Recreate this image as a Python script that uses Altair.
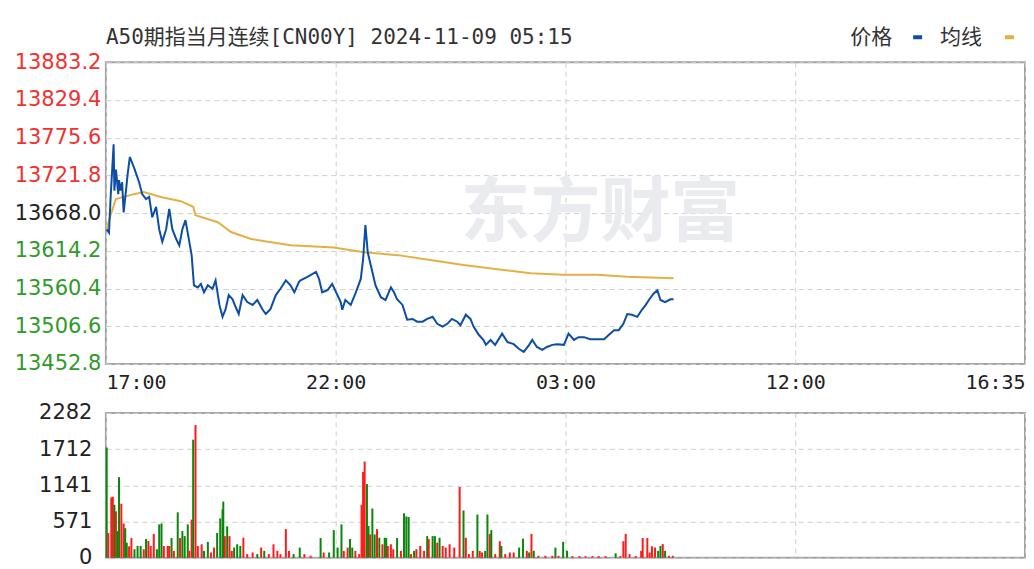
import altair as alt
import pandas as pd

TITLE = "A50期指当月连续[CN00Y] 2024-11-09 05:15"
x_labels = ["17:00", "22:00", "03:00", "12:00", "16:35"]
x_total = 1190          # trading minutes shown on the axis (17:00-05:15, 09:00-16:35)
x_ticks = [0, 297.5, 595, 892.5, 1190]
price_ticks = [13452.8, 13506.6, 13560.4, 13614.2, 13668.0, 13721.8, 13775.6, 13829.4, 13883.2]
prev_close = 13668.0
vol_ticks = [0, 571, 1141, 1712, 2282]

# price (minutes after 17:00)
price_minute = [1, 4, 6, 10, 11, 13, 16, 17, 19, 21,
                23, 26, 28, 31, 37, 43, 47, 52, 56, 60,
                65, 69, 73, 78, 82, 86, 91, 95, 99, 103,
                108, 111, 114, 119, 123, 127, 132, 138, 142, 147,
                151, 155, 159, 164, 168, 172, 177, 183, 190, 196,
                203, 207, 213, 220, 226, 233, 239, 244, 250, 252,
                261, 272, 276, 280, 287, 293, 298, 304, 306, 310,
                317, 323, 330, 333, 336, 339, 345, 349, 356, 362,
                369, 373, 377, 384, 390, 397, 403, 410, 416, 423,
                429, 436, 442, 448, 455, 459, 466, 472, 476, 483,
                489, 492, 498, 504, 513, 520, 528, 535, 541, 548,
                552, 558, 565, 571, 578, 584, 593, 599, 606, 612,
                619, 627, 636, 645, 651, 658, 664, 670, 675, 681,
                688, 694, 699, 703, 709, 714, 718, 724, 731, 735]
price_value = [13645, 13640, 13688, 13766, 13700, 13730, 13695, 13715, 13700, 13712,
               13669, 13700, 13722, 13748, 13731, 13712, 13695, 13688, 13691, 13662,
               13677, 13645, 13627, 13645, 13674, 13645, 13631, 13622, 13645, 13658,
               13627, 13608, 13565, 13562, 13567, 13555, 13565, 13560, 13572, 13537,
               13520, 13531, 13551, 13545, 13534, 13524, 13551, 13541, 13537, 13544,
               13530, 13524, 13531, 13551, 13560, 13572, 13565, 13555, 13570, 13572,
               13577, 13584, 13574, 13555, 13558, 13567, 13555, 13541, 13530, 13544,
               13537, 13553, 13574, 13602, 13651, 13612, 13584, 13565, 13548, 13544,
               13562, 13555, 13545, 13537, 13516, 13517, 13513, 13513, 13517, 13520,
               13510, 13506, 13510, 13517, 13513, 13508, 13523, 13517, 13506, 13494,
               13487, 13480, 13487, 13480, 13496, 13484, 13481, 13474, 13470, 13480,
               13487, 13477, 13473, 13477, 13480, 13481, 13480, 13496, 13487, 13491,
               13491, 13488, 13488, 13488, 13494, 13501, 13501, 13510, 13524, 13523,
               13520, 13530, 13537, 13544, 13553, 13558, 13544, 13541, 13545, 13545]

# average line
avg_minute = [1, 6, 13, 36, 49, 71, 97, 113, 116, 145, 162, 188, 210, 239,
              295, 334, 378, 420, 463, 507, 550, 592, 636, 675, 735]
avg_value = [13645, 13665, 13688, 13695, 13698, 13691, 13685, 13677, 13665, 13655, 13641, 13631, 13627, 13622,
             13619, 13612, 13608, 13601, 13594, 13588, 13582, 13580, 13580, 13577, 13575]

# volume
vol_minute = [1, 3, 7, 9, 11, 13, 15, 17, 20, 23,
              25, 27, 30, 33, 37, 41, 45, 49, 52, 55,
              58, 62, 66, 69, 72, 75, 80, 82, 85, 88,
              93, 96, 99, 102, 106, 108, 111, 113, 116, 119,
              124, 127, 132, 136, 140, 144, 148, 151, 152, 154,
              157, 160, 163, 166, 170, 174, 178, 183, 190, 196,
              201, 205, 211, 217, 222, 226, 233, 237, 243, 251,
              257, 265, 278, 282, 289, 295, 300, 305, 308, 313,
              316, 319, 323, 328, 331, 333, 335, 338, 340, 342,
              345, 348, 351, 354, 358, 361, 363, 365, 369, 372,
              377, 382, 386, 389, 392, 395, 399, 402, 407, 412,
              416, 418, 423, 426, 429, 432, 436, 440, 445, 451,
              458, 463, 466, 470, 475, 481, 484, 487, 491, 494,
              497, 499, 504, 510, 512, 517, 523, 528, 535, 540,
              545, 548, 551, 554, 560, 569, 578, 582, 586, 592,
              597, 604, 613, 621, 630, 638, 647, 660, 666, 670,
              673, 678, 686, 693, 695, 701, 704, 707, 711, 715,
              718, 721, 724, 729, 734]
vol_value = [1736, 390, 950, 960, 835, 730, 420, 1270, 850, 540,
             465, 235, 180, 310, 134, 186, 186, 134, 295, 264,
             186, 375, 134, 525, 540, 186, 186, 186, 310, 108,
             715, 310, 420, 341, 525, 108, 600, 1860, 2090, 186,
             212, 108, 250, 83, 160, 390, 620, 760, 885, 340,
             495, 341, 108, 160, 212, 186, 315, 57, 83, 57,
             160, 108, 57, 212, 108, 57, 450, 108, 57, 160,
             57, 31, 310, 83, 83, 435, 160, 525, 108, 160,
             295, 160, 108, 57, 835, 1350, 1515, 1160, 500, 367,
             775, 367, 450, 315, 212, 315, 310, 186, 212, 134,
             310, 108, 700, 650, 640, 57, 108, 134, 186, 108,
             340, 294, 341, 341, 238, 315, 186, 160, 212, 160,
             1115, 745, 315, 57, 108, 680, 108, 83, 108, 680,
             375, 435, 57, 260, 186, 57, 83, 83, 160, 300,
             108, 83, 375, 110, 31, 31, 31, 160, 31, 250,
             110, 25, 25, 25, 25, 25, 25, 70, 25, 260,
             375, 57, 25, 108, 310, 310, 83, 180, 160, 108,
             186, 215, 108, 31, 31]
vol_dir = list("GRRRGRGGRR" "GGRRGGGRGR" "RRGGGRRRGR" "GRGGGRRGRR" "RGGRRGGGGR"
               "GRRGGGRRRG" "RGRRRRRRGG" "RRGRGGGGRR" "GGRRRRRGGR" "GGRGRGGRRR"
               "GRGGGRGRRR" "GRGGRGRRRR" "RGRRRGRRGG" "RGRRGRRRGG" "RGRGRRRGRG"
               "GRRRRRRGRR" "RRRRRRRRRG" "GRGRR")

price_df = pd.DataFrame({"m": price_minute, "v": price_value})
avg_df = pd.DataFrame({"m": avg_minute, "v": avg_value})
vol_df = pd.DataFrame({"m": vol_minute, "v": vol_value, "d": vol_dir})

label_expr = "[" + ",".join("'%s'" % s for s in x_labels) + "][round(datum.value/%s)]" % (x_total / 4)

GRID = "#cfcfcf"
x_scale = alt.Scale(domain=[0, x_total], nice=False, zero=False)

x_top = alt.X("m:Q", scale=x_scale, title=None,
              axis=alt.Axis(values=x_ticks, labelExpr=label_expr, labelFlush=True,
                            grid=True, gridDash=[5, 4], gridColor=GRID,
                            ticks=False, domain=False, labelFont="DejaVu Sans Mono",
                            labelFontSize=20, labelColor="#222", labelPadding=9))
y_top = alt.Y("v:Q", title=None,
              scale=alt.Scale(domain=[price_ticks[0], price_ticks[-1]], nice=False, zero=False),
              axis=alt.Axis(values=price_ticks, format=".1f", grid=True, gridDash=[5, 4],
                            gridColor=GRID, ticks=False, domain=False,
                            labelFont="DejaVu Sans", labelFontSize=21, labelPadding=5,
                            labelColor={"condition": [
                                {"test": "datum.value > %f" % (prev_close + 0.5), "value": "#f2312f"},
                                {"test": "datum.value < %f" % (prev_close - 0.5), "value": "#2f9a2a"}],
                                "value": "#222222"}))

one = pd.DataFrame({"t": ["东方财富"]})
watermark = alt.Chart(one).mark_text(font="Noto Sans CJK SC", fontSize=70, fontWeight="bold",
                                     color="#e9ebee", align="center", baseline="middle").encode(
    x=alt.value(495), y=alt.value(153), text="t:N")

avg_line = alt.Chart(avg_df).mark_line(color="#e3b143", strokeWidth=2).encode(x=x_top, y=y_top)
price_line = alt.Chart(price_df).mark_line(color="#0c4ea5", strokeWidth=2).encode(x=x_top, y=y_top)

def header_text(txt, px, font, size):
    return alt.Chart(pd.DataFrame({"t": [txt]})).mark_text(
        font=font, fontSize=size, color="#333", align="left", baseline="middle").encode(
        x=alt.value(px), y=alt.value(-24), text="t:N")

def legend_dash(color, px):
    return alt.Chart(pd.DataFrame({"t": [0]})).mark_rule(color=color, strokeWidth=4).encode(
        x=alt.value(px), x2=alt.value(px + 9), y=alt.value(-25))

top = alt.layer(
    watermark, avg_line, price_line,
    header_text(TITLE, 0, "DejaVu Sans Mono, Noto Sans CJK SC", 21),
    header_text("价格", 745, "Noto Sans CJK SC", 21), legend_dash("#0c4ea5", 808),
    header_text("均线", 835, "Noto Sans CJK SC", 21), legend_dash("#e3b143", 900),
).properties(width=920, height=302)

x_bot = alt.X("m:Q", scale=x_scale, title=None,
              axis=alt.Axis(values=x_ticks, labels=False, grid=True, gridDash=[5, 4],
                            gridColor=GRID, ticks=False, domain=False))
y_bot = alt.Y("v:Q", title=None, scale=alt.Scale(domain=[0, vol_ticks[-1]], nice=False),
              axis=alt.Axis(values=vol_ticks, format="d", grid=True, gridDash=[5, 4], gridColor=GRID,
                            ticks=False, domain=False, labelFont="DejaVu Sans",
                            labelFontSize=21, labelColor="#222", labelPadding=14))

bottom = alt.Chart(vol_df).mark_rule(strokeWidth=2).encode(
    x=x_bot, y=y_bot, y2=alt.datum(0),
    color=alt.Color("d:N", scale=alt.Scale(domain=["R", "G"], range=["#ff1a1a", "#0a860a"]), legend=None),
).properties(width=920, height=145)

chart = alt.vconcat(top, bottom, spacing=7).properties(
    padding={"left": 5, "top": 18, "right": 0, "bottom": 0},
    background="white",
).configure_view(stroke="#a3a3a3", strokeWidth=2)

chart.save("out.html", embed_options={"renderer": "svg", "actions": False})
